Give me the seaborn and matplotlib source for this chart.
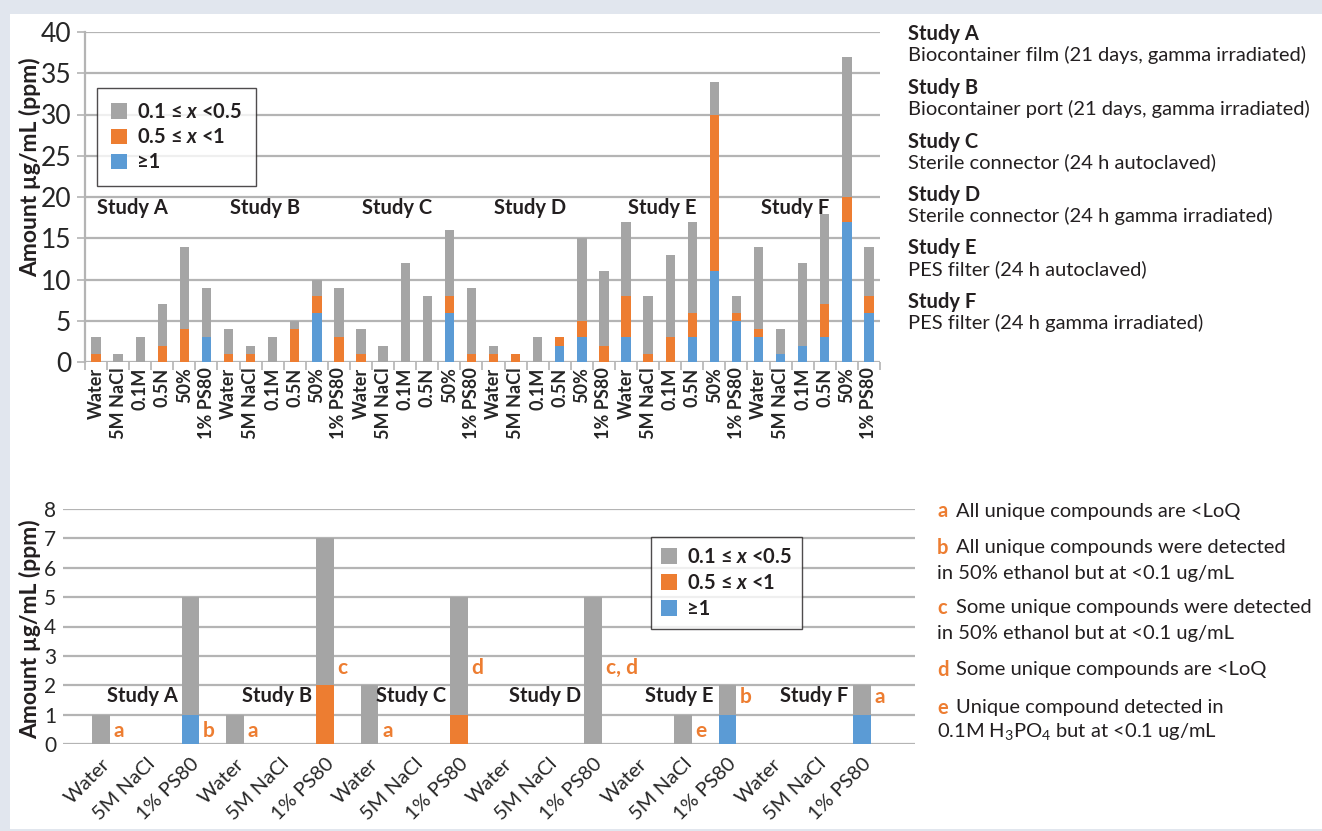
import matplotlib
matplotlib.use("Agg")
import matplotlib.pyplot as plt
from matplotlib.patches import Rectangle, Patch
from matplotlib.ticker import FixedLocator
import numpy as np
import pandas as pd
import seaborn as sns

# ---------------- data ----------------
studies = ["A", "B", "C", "D", "E", "F"]
top_conditions = ["Water", "5M NaCl", "0.1M", "0.5N", "50%", "1% PS80"]
top_blue = [0, 0, 0, 0, 0, 3,
            0, 0, 0, 0, 6, 0,
            0, 0, 0, 0, 6, 0,
            0, 0, 0, 2, 3, 0,
            3, 0, 0, 3, 11, 5,
            3, 1, 2, 3, 17, 6]
top_orange = [1, 0, 0, 2, 4, 0,
              1, 1, 0, 4, 2, 3,
              1, 0, 0, 0, 2, 1,
              1, 1, 0, 1, 2, 2,
              5, 1, 3, 3, 19, 1,
              1, 0, 0, 4, 3, 2]
top_gray = [2, 1, 3, 5, 10, 6,
            3, 1, 3, 1, 2, 6,
            3, 2, 12, 8, 8, 8,
            1, 0, 3, 0, 10, 9,
            9, 7, 10, 11, 4, 2,
            10, 3, 10, 11, 17, 6]

bot_conditions = ["Water", "5M NaCl", "1% PS80"]
bot_blue = [0, 0, 1, 0, 0, 0, 0, 0, 0, 0, 0, 0, 0, 0, 1, 0, 0, 1]
bot_orange = [0, 0, 0, 0, 0, 2, 0, 0, 1, 0, 0, 0, 0, 0, 0, 0, 0, 0]
bot_gray = [1, 0, 4, 1, 0, 5, 2, 0, 4, 0, 0, 5, 0, 1, 1, 0, 0, 1]

note_index = [0, 2, 3, 5, 6, 8, 11, 13, 14, 17]
note_letter = ["a", "b", "a", "c", "a", "d", "c, d", "e", "b", "a"]
note_level = [0.45, 0.45, 0.45, 2.6, 0.45, 2.6, 2.6, 0.45, 1.6, 1.6]

legend_labels = ["0.1 \u2264 $x$ <0.5", "0.5 \u2264 $x$ <1", "\u22651"]

study_desc = [
    "Biocontainer film (21 days, gamma irradiated)",
    "Biocontainer port (21 days, gamma irradiated)",
    "Sterile connector (24 h autoclaved)",
    "Sterile connector (24 h gamma irradiated)",
    "PES filter (24 h autoclaved)",
    "PES filter (24 h gamma irradiated)",
]
notes = [
    ("a", ["All unique compounds are <LoQ"]),
    ("b", ["All unique compounds were detected", "in 50% ethanol but at <0.1 ug/mL"]),
    ("c", ["Some unique compounds were detected", "in 50% ethanol but at <0.1 ug/mL"]),
    ("d", ["Some unique compounds are <LoQ"]),
    ("e", ["Unique compound detected in", "0.1M H$_3$PO$_4$ but at <0.1 ug/mL"]),
]

# ---------------- style ----------------
GRAY = "#a5a5a5"
ORANGE = "#ed7d31"
BLUE = "#5b9bd5"
GRID = "#b4b4b4"
TXT = "#231f20"

sns.set_theme(style="white")
FONT = ["Lato", "DejaVu Sans"]
plt.rcParams["font.family"] = FONT
plt.rcParams["mathtext.fontset"] = "custom"
plt.rcParams["mathtext.rm"] = "Lato"
plt.rcParams["mathtext.it"] = "Lato:italic:bold"
plt.rcParams["mathtext.bf"] = "Lato:bold"
plt.rcParams["text.color"] = TXT

fig = plt.figure(figsize=(13.22, 8.31), dpi=100, facecolor="#e1e6ee")
W, H = 1322, 831
fig.patches.append(Rectangle((10 / W, 1 - 829 / H), 1, (829 - 14) / H,
                             transform=fig.transFigure, facecolor="white",
                             edgecolor="none", zorder=-10))


def px(x0, y0, x1, y1):
    return [x0 / W, 1 - y1 / H, (x1 - x0) / W, (y1 - y0) / H]


FS = 14.5  # general text size

# ---------------- top chart ----------------
top_df = pd.DataFrame({
    "study": np.repeat(studies, len(top_conditions)),
    "cond": top_conditions * len(studies),
    "blue": top_blue, "orange": top_orange, "gray": top_gray,
})
top_df["key"] = top_df["study"] + "|" + top_df["cond"]
top_df["lvl2"] = top_df["blue"] + top_df["orange"]
top_df["lvl3"] = top_df["lvl2"] + top_df["gray"]
top_order = list(top_df["key"])

ax1 = fig.add_axes(px(85, 32, 880, 362))
ax1.patch.set_alpha(0)
for col, c in [("lvl3", GRAY), ("lvl2", ORANGE), ("blue", BLUE)]:
    sns.barplot(data=top_df, x="key", y=col, order=top_order, color=c,
                width=0.42, saturation=1, ax=ax1, zorder=3,
                linewidth=0, edgecolor="none")
ax1.set_xlim(-0.5, 35.5)
ax1.set_ylim(0, 40)
ax1.set_yticks(range(0, 41, 5))
ax1.set_yticklabels([str(v) for v in range(0, 41, 5)], fontsize=19)
ax1.set_xticks(range(len(top_order)))
ax1.set_xticklabels(top_df["cond"], rotation=90, fontsize=13,
                    fontweight="bold", va="top", ha="center")
ax1.xaxis.set_minor_locator(FixedLocator(np.arange(-0.5, 36, 1)))
ax1.tick_params(axis="x", which="major", length=0, pad=4)
ax1.tick_params(axis="x", which="minor", length=6, color=GRID, width=1.2,
                direction="out", bottom=True)
ax1.tick_params(axis="y", length=6, color=GRID, width=1.2, direction="out",
                left=True, pad=4)
ax1.grid(axis="y", color=GRID, linewidth=1.6, zorder=0)
ax1.set_axisbelow(True)
for s in ["top", "right", "bottom"]:
    ax1.spines[s].set_visible(False)
ax1.spines["left"].set_color(GRID)
ax1.spines["left"].set_linewidth(1.6)
ax1.set_xlabel("")
ax1.set_ylabel("")
for i, s in enumerate(studies):
    ax1.text(6 * i + 1.65, 18.7, f"Study {s}", fontsize=FS,
             fontweight="bold", ha="center", va="center", zorder=5)

handles = [Patch(facecolor=c, edgecolor="none") for c in (GRAY, ORANGE, BLUE)]
leg1 = ax1.legend(handles, legend_labels, loc="upper left",
                  bbox_to_anchor=(0.015, 0.83), borderaxespad=0,
                  prop={"weight": "bold", "size": FS, "family": FONT},
                  frameon=True, fancybox=False, edgecolor="#231f20",
                  handlelength=0.8, handleheight=0.8, handletextpad=0.5,
                  labelspacing=0.25, borderpad=0.7)
leg1.get_frame().set_linewidth(1.0)
leg1.set_zorder(6)

fig.text(30 / W, 1 - 167 / H, "Amount \u00b5g/mL (ppm)", rotation=90,
         fontsize=16.5, fontweight="bold", ha="center", va="center")

# ---------------- bottom chart ----------------
bot_df = pd.DataFrame({
    "study": np.repeat(studies, len(bot_conditions)),
    "cond": bot_conditions * len(studies),
    "blue": bot_blue, "orange": bot_orange, "gray": bot_gray,
})
bot_df["key"] = bot_df["study"] + "|" + bot_df["cond"]
bot_df["lvl2"] = bot_df["blue"] + bot_df["orange"]
bot_df["lvl3"] = bot_df["lvl2"] + bot_df["gray"]
bot_order = list(bot_df["key"])

ax2 = fig.add_axes(px(63, 509, 915, 744))
ax2.patch.set_alpha(0)
for col, c in [("lvl3", GRAY), ("lvl2", ORANGE), ("blue", BLUE)]:
    sns.barplot(data=bot_df, x="key", y=col, order=bot_order, color=c,
                width=0.4, saturation=1, ax=ax2, zorder=3,
                linewidth=0, edgecolor="none")
ax2.set_xlim(-0.85, 18.19)
ax2.set_ylim(0, 8)
ax2.set_yticks(range(0, 9))
ax2.set_yticklabels([str(v) for v in range(0, 9)], fontsize=15)
ax2.set_xticks(range(len(bot_order)))
ax2.set_xticklabels(bot_df["cond"], rotation=45, fontsize=FS,
                    ha="right", va="top", rotation_mode="anchor")
ax2.tick_params(axis="both", length=0, pad=5)
ax2.tick_params(axis="x", pad=8)
ax2.grid(axis="y", color=GRID, linewidth=1.6, zorder=0)
ax2.set_axisbelow(True)
for s in ["top", "right", "bottom", "left"]:
    ax2.spines[s].set_visible(False)
ax2.set_xlabel("")
ax2.set_ylabel("")
for i, s in enumerate(studies):
    ax2.text(3 * i + 0.93, 1.63, f"Study {s}", fontsize=FS,
             fontweight="bold", ha="center", va="center", zorder=5)
for idx, letter, lvl in zip(note_index, note_letter, note_level):
    ax2.text(idx + 0.28, lvl, letter, color=ORANGE, fontsize=15,
             fontweight="bold", ha="left", va="center", zorder=5)

leg2 = ax2.legend(handles, legend_labels, loc="upper left",
                  bbox_to_anchor=(0.69, 0.881), borderaxespad=0,
                  prop={"weight": "bold", "size": FS, "family": FONT},
                  frameon=True, fancybox=False, edgecolor="#231f20",
                  handlelength=0.8, handleheight=0.8, handletextpad=0.5,
                  labelspacing=0.3, borderpad=0.5)
leg2.get_frame().set_linewidth(1.0)
leg2.set_zorder(6)

fig.text(30 / W, 1 - 629 / H, "Amount \u00b5g/mL (ppm)", rotation=90,
         fontsize=16.5, fontweight="bold", ha="center", va="center")

# ---------------- right-hand texts ----------------
for i, (s, d) in enumerate(zip(studies, study_desc)):
    y0 = 34.5 + 53.5 * i
    fig.text(908 / W, 1 - y0 / H, f"Study {s}", fontsize=FS,
             fontweight="bold", ha="left", va="center")
    fig.text(908 / W, 1 - (y0 + 20.5) / H, d, fontsize=FS,
             ha="left", va="center")

note_lines_y = [[511], [548, 573], [608, 634], [670], [708, 732]]
for (letter, lines), ys in zip(notes, note_lines_y):
    fig.text(937 / W, 1 - ys[0] / H, letter, color=ORANGE, fontsize=FS,
             fontweight="bold", ha="left", va="center")
    fig.text(956 / W, 1 - ys[0] / H, lines[0], fontsize=FS,
             ha="left", va="center")
    for ln, yy in zip(lines[1:], ys[1:]):
        fig.text(937 / W, 1 - yy / H, ln, fontsize=FS, ha="left",
                 va="center")

fig.savefig("out.png", dpi=100, facecolor=fig.get_facecolor())
